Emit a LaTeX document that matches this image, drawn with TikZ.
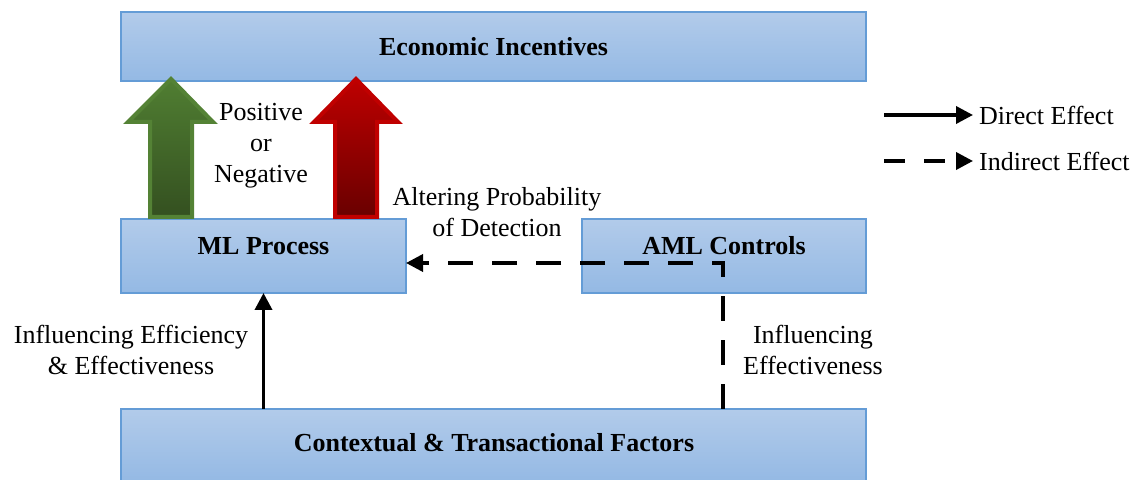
\documentclass[tikz,border=0pt]{standalone}
\usepackage{fontspec}
\setmainfont{Liberation Serif}
\usetikzlibrary{arrows.meta,calc}
\definecolor{boxtop}{RGB}{178,203,234}
\definecolor{boxbot}{RGB}{148,185,228}
\definecolor{boxline}{RGB}{100,156,214}
\definecolor{grline}{RGB}{84,130,53}
\definecolor{grtop}{RGB}{80,126,50}
\definecolor{grbot}{RGB}{52,80,32}
\definecolor{rdline}{RGB}{192,0,0}
\definecolor{rdtop}{RGB}{190,0,0}
\definecolor{rdbot}{RGB}{105,0,0}
\tikzset{
  every node/.style={font=\fontsize{26}{31}\selectfont},
  blockbox/.style={draw=boxline, line width=1.2pt, top color=boxtop, bottom color=boxbot},
  blocktext/.style={font=\fontsize{26}{31}\selectfont\bfseries},
  lbl/.style={align=center},
  effect/.style={line width=3.6pt, -{Triangle[length=17pt,width=17pt]}},
  indirect/.style={effect, dash pattern=on 25pt off 19pt},
}
\begin{document}
\begin{tikzpicture}[x=1pt,y=1pt]
\useasboundingbox (0,0) rectangle (1137,479);

% blocks
\draw[blockbox] (121,398) rectangle (866,467);
\node[blocktext] (econ) at (493.5,432) {Economic Incentives};
\path (121,398) rectangle (866,467);

\draw[blockbox] (121,186) rectangle (406,260);
\node[blocktext] at (263.5,233) {ML Process};
\coordinate (mlE) at (406,216);
\coordinate (mlS) at (263.5,186);

\draw[blockbox] (582,186) rectangle (866,260);
\node[blocktext] at (724,233) {AML Controls};

\draw[blockbox] (121,-3) rectangle (866,70);
\node[blocktext] at (494,36) {Contextual \& Transactional Factors};
\coordinate (ctxA) at (263.5,70);
\coordinate (ctxB) at (723,70);

% broad up arrows
\draw[line width=4pt, draw=grline, top color=grtop, bottom color=grbot, line join=miter]
  (150,262) -- (150,357) -- (128,357) -- (171,400) -- (213,357) -- (192,357) -- (192,262) -- cycle;
\draw[line width=4pt, draw=rdline, top color=rdtop, bottom color=rdbot, line join=miter]
  (335,262) -- (335,357) -- (314,357) -- (356,400) -- (398,357) -- (377,357) -- (377,262) -- cycle;

% connectors
\coordinate (corner) at (723,216);
\draw[effect] (ctxA) -- (mlS);
\draw[indirect] (ctxB) -- (corner) -- (mlE);

% labels
\node[lbl] at (261,333) {Positive\\or\\Negative};
\node[lbl] at (497,267) {Altering Probability\\of Detection};
\node[lbl] at (131,129) {Influencing Efficiency\\\& Effectiveness};
\node[lbl] at (813,129) {Influencing\\Effectiveness};

% legend
\coordinate (l1a) at (884,364);
\coordinate (l1b) at (973,364);
\coordinate (l2a) at (884,318);
\coordinate (l2b) at (973,318);
\draw[effect] (l1a) -- (l1b);
\draw[effect, dash pattern=on 21pt off 19pt] (l2a) -- (l2b);
\node[anchor=west, inner sep=0pt] at (979,364) {Direct Effect};
\node[anchor=west, inner sep=0pt] at (979,318) {Indirect Effect};
\end{tikzpicture}
\end{document}
